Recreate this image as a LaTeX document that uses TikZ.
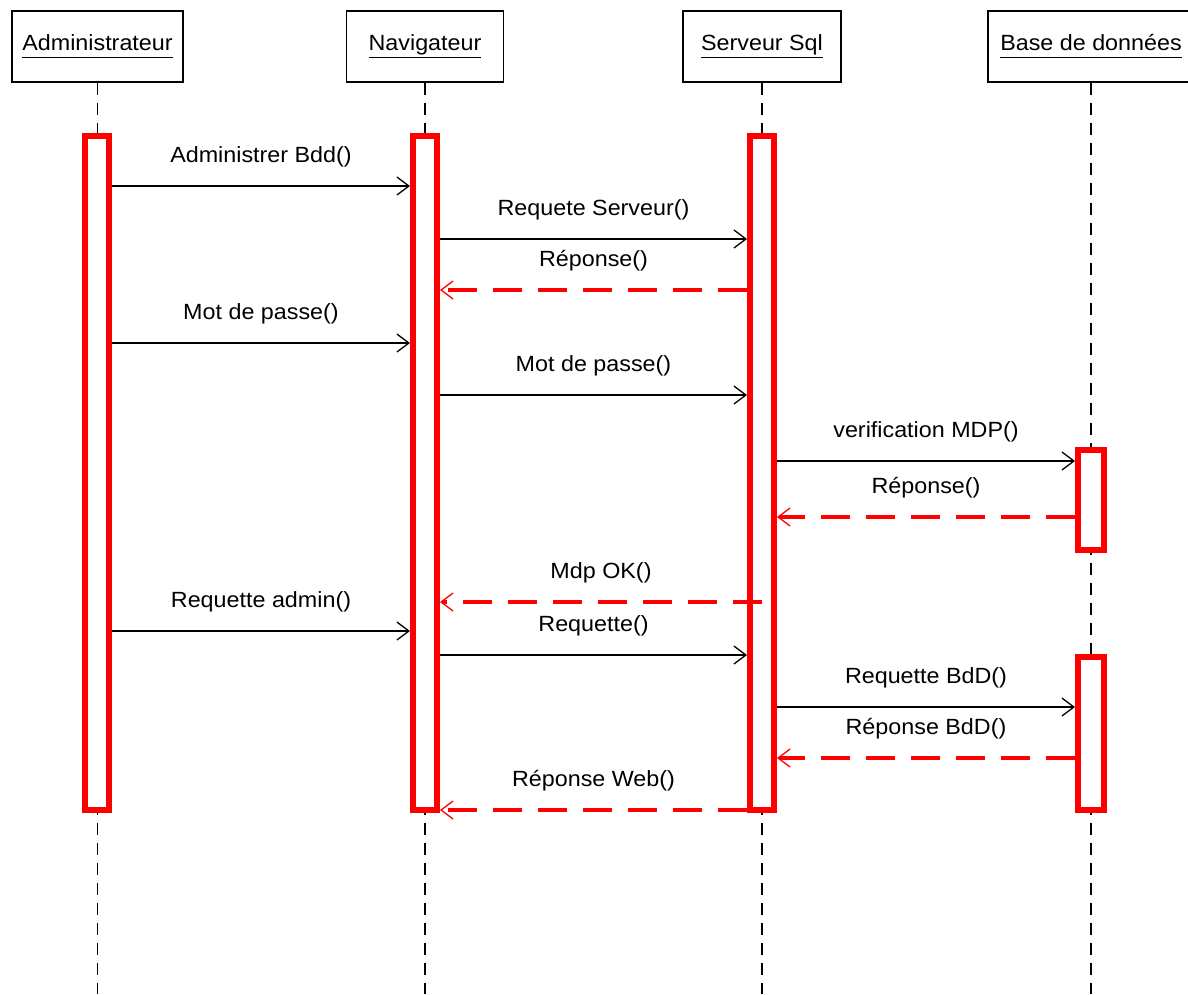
\documentclass[tikz,border=0pt]{standalone}
\usepackage{fontspec}
\setmainfont{Liberation Sans}
\newfontfamily\diafont[FakeStretch=1.06]{Liberation Sans}
\usetikzlibrary{arrows.meta}
\newcommand\ulbox[1]{\setbox0\hbox{#1}\rlap{\rule[-7.5pt]{\wd0}{1.3pt}}\box0}
\begin{document}
\begin{tikzpicture}[x=1pt,y=-1pt,
  head/.style={draw=black, line width=1.6pt, minimum height=71pt, inner sep=0pt,
    font=\diafont\fontsize{22}{26}\selectfont},
  act/.style={draw=red, line width=6pt, fill=white, inner sep=0pt},
  life/.style={black, line width=1.4pt, dash pattern=on 12pt off 8pt},
  tip/.style={-{Straight Barb[length=12pt,width=18pt,line width=1.3pt]}},
  call/.style={tip, black, line width=1.5pt},
  ret/.style={tip, red, line width=4pt, dash pattern=on 29pt off 16pt},
  lbl/.style={font=\diafont\fontsize{22}{26}\selectfont, inner sep=0pt, anchor=base, yshift=24pt}]
\clip (0,0) rectangle (1188,994);
\fill[white] (0,0) rectangle (1188,994);

% headers
\node[head, minimum width=171pt] (hA) at (97.5,46.5) {\ulbox{Administrateur}};
\node[head, minimum width=157pt] (hN) at (425,46.5) {\ulbox{Navigateur}};
\node[head, minimum width=158pt] (hS) at (762,46.5) {\ulbox{Serveur Sql}};
\node[head, minimum width=206pt] (hB) at (1091,46.5) {\ulbox{Base de données}};

\coordinate (bot) at (0,994);
\draw[life] (hA.south) -- (hA.south |- bot);
\draw[life] (hN.south) -- (hN.south |- bot);
\draw[life] (hS.south) -- (hS.south |- bot);
\draw[life] (hB.south) -- (hB.south |- bot);

% activation bars
\node[act, minimum width=24pt, minimum height=674pt] (aA) at (97,473) {};
\node[act, minimum width=24pt, minimum height=674pt] (aN) at (425,473) {};
\node[act, minimum width=24pt, minimum height=674pt] (aS) at (762,473) {};
\node[act, minimum width=26pt, minimum height=100pt] (aB1) at (1091,499.5) {};
\node[act, minimum width=26pt, minimum height=153pt] (aB2) at (1091,733.5) {};

% message levels
\coordinate (m1) at (0,186);
\coordinate (m2) at (0,239);
\coordinate (m3) at (0,290);
\coordinate (m4) at (0,343);
\coordinate (m5) at (0,395);
\coordinate (m6) at (0,461);
\coordinate (m7) at (0,517);
\coordinate (m8) at (0,602);
\coordinate (m9) at (0,631);
\coordinate (m10) at (0,655);
\coordinate (m11) at (0,707);
\coordinate (m12) at (0,758);
\coordinate (m13) at (0,810);

\draw[call] (aA.east |- m1) -- node[lbl] {Administrer Bdd()} (aN.west |- m1);
\draw[call] (aN.east |- m2) -- node[lbl] {Requete Serveur()} (aS.west |- m2);
\draw[ret] (aS.west |- m3) -- node[lbl, text=black] {Réponse()} (aN.east |- m3);
\draw[call] (aA.east |- m4) -- node[lbl] {Mot de passe()} (aN.west |- m4);
\draw[call] (aN.east |- m5) -- node[lbl] {Mot de passe()} (aS.west |- m5);
\draw[call] (aS.east |- m6) -- node[lbl] {verification MDP()} (aB1.west |- m6);
\draw[ret] (aB1.west |- m7) -- node[lbl, text=black] {Réponse()} (aS.east |- m7);
\draw[ret] (aS.center |- m8) -- node[lbl, text=black] {Mdp OK()} (aN.east |- m8);
\draw[call] (aA.east |- m9) -- node[lbl] {Requette admin()} (aN.west |- m9);
\draw[call] (aN.east |- m10) -- node[lbl] {Requette()} (aS.west |- m10);
\draw[call] (aS.east |- m11) -- node[lbl] {Requette BdD()} (aB2.west |- m11);
\draw[ret] (aB2.west |- m12) -- node[lbl, text=black] {Réponse BdD()} (aS.east |- m12);
\draw[ret] (aS.west |- m13) -- node[lbl, text=black] {Réponse Web()} (aN.east |- m13);
\end{tikzpicture}
\end{document}
